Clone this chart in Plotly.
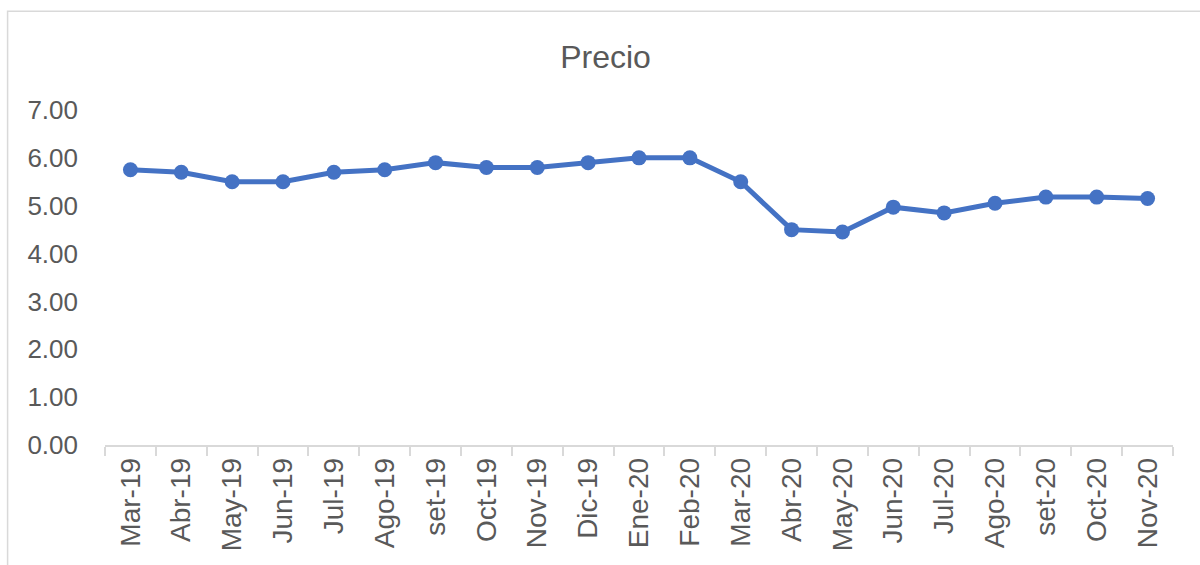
import plotly.graph_objects as go

months = ["Mar-19", "Abr-19", "May-19", "Jun-19", "Jul-19", "Ago-19", "set-19",
          "Oct-19", "Nov-19", "Dic-19", "Ene-20", "Feb-20", "Mar-20", "Abr-20",
          "May-20", "Jun-20", "Jul-20", "Ago-20", "set-20", "Oct-20", "Nov-20"]
precio = [5.75, 5.70, 5.50, 5.50, 5.70, 5.75, 5.90,
          5.80, 5.80, 5.90, 6.00, 6.00, 5.50, 4.50,
          4.45, 4.97, 4.85, 5.05, 5.18, 5.18, 5.15]
y_ticks = [0, 1, 2, 3, 4, 5, 6, 7]

W, H = 1200, 565
L, R, T, B = 104.5, 26.5, 110, 119.5
pw, ph = W - L - R, H - T - B

def px_x(p):
    return (p - L) / pw

def px_y(p):
    return (H - B - p) / ph

fig = go.Figure()
fig.add_trace(go.Scatter(
    x=months, y=precio, mode="lines+markers",
    line=dict(color="#4472C4", width=5),
    marker=dict(color="#4472C4", size=15),
    showlegend=False,
))

fig.update_layout(
    width=W, height=H,
    margin=dict(l=L, r=R, t=T, b=B),
    paper_bgcolor="white", plot_bgcolor="white",
    font=dict(family="Liberation Sans, Arial, sans-serif", color="#595959"),
    title=dict(text="Precio", x=605.5 / W, xanchor="center",
               y=1 - 57 / H, yanchor="middle",
               font=dict(size=32, color="#595959", family="Liberation Sans, Arial, sans-serif")),
    xaxis=dict(
        type="category", range=[-0.5, len(months) - 0.5],
        tickangle=-90, ticks="outside", tickson="boundaries",
        ticklen=9, tickcolor="#d9d9d9", tickwidth=1.5,
        showline=True, linecolor="#d9d9d9", linewidth=1.5,
        showgrid=False, zeroline=False,
        tickfont=dict(size=28, color="#595959"),
    ),
    yaxis=dict(
        range=[0, 7], tickvals=y_ticks, tickformat=".2f",
        showgrid=False, zeroline=False, showline=False,
        ticks="", ticklabelstandoff=26,
        tickfont=dict(size=26, color="#595959"),
    ),
    shapes=[dict(
        type="rect", xref="paper", yref="paper",
        x0=px_x(7), x1=px_x(1210), y0=px_y(580), y1=px_y(11),
        line=dict(color="#d9d9d9", width=1.5), fillcolor="rgba(0,0,0,0)",
        layer="below",
    )],
)

fig.write_html("out.html", config={"displayModeBar": False},
               post_script="document.body.style.margin='0';")
